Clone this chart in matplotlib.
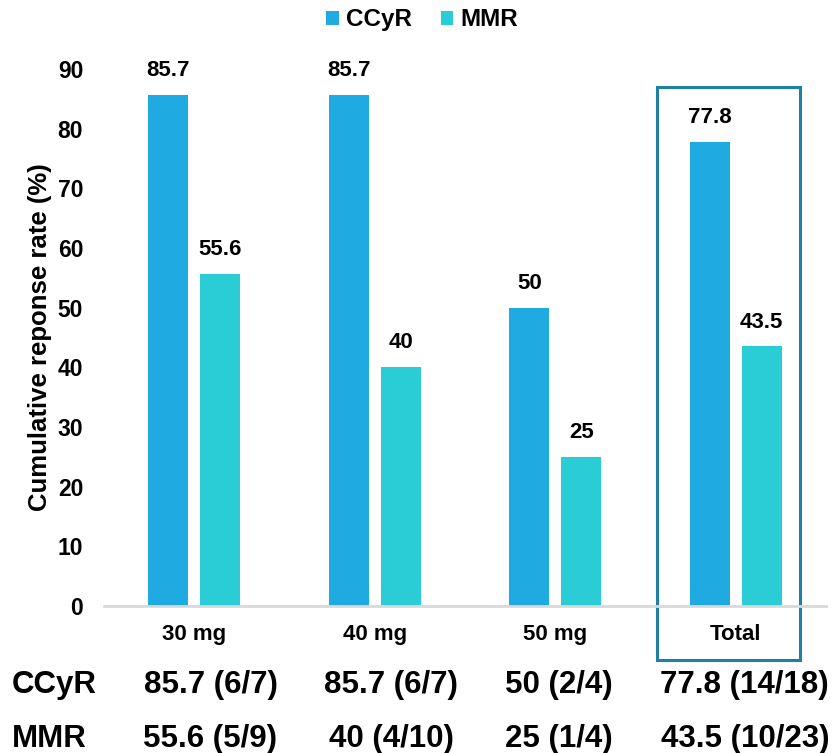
import matplotlib
matplotlib.use("Agg")
import matplotlib.pyplot as plt
from matplotlib.patches import Rectangle
import matplotlib.transforms as mtransforms
import numpy as np

plt.rcParams['font.family'] = ['Liberation Sans', 'DejaVu Sans']
plt.rcParams['font.weight'] = 'bold'

categories = ["30 mg", "40 mg", "50 mg", "Total"]
ccyr = [85.7, 85.7, 50, 77.8]
mmr = [55.6, 40, 25, 43.5]
ccyr_counts = ["6/7", "6/7", "2/4", "14/18"]
mmr_counts = ["5/9", "4/10", "1/4", "10/23"]
series_names = ["CCyR", "MMR"]
y_ticks = list(range(0, 91, 10))

c_ccyr = "#1FABE2"
c_mmr = "#2ACDD6"
c_box = "#1F80A3"

W, H = 836, 753
fig = plt.figure(figsize=(W / 100, H / 100), dpi=100)
ax = fig.add_axes([104 / W, 1 - 606 / H, (826 - 104) / W, (606 - 69) / H])

x = np.arange(len(categories))
bw = 0.22
off = 0.144
b1 = ax.bar(x - off, ccyr, width=bw, color=c_ccyr, label=series_names[0])
b2 = ax.bar(x + off, mmr, width=bw, color=c_mmr, label=series_names[1])

for bars, vals in ((b1, ccyr), (b2, mmr)):
    for rect, v in zip(bars, vals):
        ax.annotate(f"{v:g}", (rect.get_x() + rect.get_width() / 2, v),
                    xytext=(0, 10), textcoords="offset points",
                    ha="center", va="bottom", fontsize=16, fontweight="bold")

ax.set_xlim(-0.5, len(categories) - 0.5)
ax.set_ylim(0, 90)
ax.set_yticks(y_ticks)
ax.set_yticklabels([str(t) for t in y_ticks], fontsize=16.5, fontweight="bold")
ax.set_xticks(x)
ax.set_xticklabels(categories, fontsize=16, fontweight="bold")
ax.tick_params(axis="both", length=0)
ax.tick_params(axis="y", pad=15)
ax.tick_params(axis="x", pad=13)
for s in ("top", "right", "left"):
    ax.spines[s].set_visible(False)
ax.spines["bottom"].set_color("#D9D9D9")
ax.spines["bottom"].set_linewidth(2)
ax.set_ylabel("Cumulative reponse rate (%)", fontsize=18.5, fontweight="bold", labelpad=4)

# Highlight box around the Total group
box = Rectangle((3 - 0.437, -9.0), 0.793, 96.0, fill=False, edgecolor=c_box,
                linewidth=2.2, clip_on=False, transform=ax.transData)
ax.add_patch(box)

# Legend
leg = fig.legend(handles=[b1, b2], labels=series_names, loc="upper center",
                 bbox_to_anchor=(0.505, 1.018), ncol=2, frameon=False,
                 prop={"size": 17.5, "weight": "bold"}, handlelength=0.5,
                 handleheight=0.5, handletextpad=0.3, columnspacing=1.2)

# Summary rows below the chart
tr = mtransforms.blended_transform_factory(ax.transData, fig.transFigure)
col_shift = [0.09, 0.09, 0.02, 0.05]
rows = [(series_names[0], ccyr, ccyr_counts, 1 - 693 / H),
        (series_names[1], mmr, mmr_counts, 1 - 747 / H)]
for name, vals, counts, yy in rows:
    fig.text(12 / W, yy, name, ha="left", va="baseline", fontsize=22.5, fontweight="bold")
    for i, (v, c) in enumerate(zip(vals, counts)):
        ax.text(x[i] + col_shift[i], yy, f"{v:g} ({c})", transform=tr,
                ha="center", va="baseline", fontsize=22.5, fontweight="bold")

fig.savefig("out.png", dpi=100)
